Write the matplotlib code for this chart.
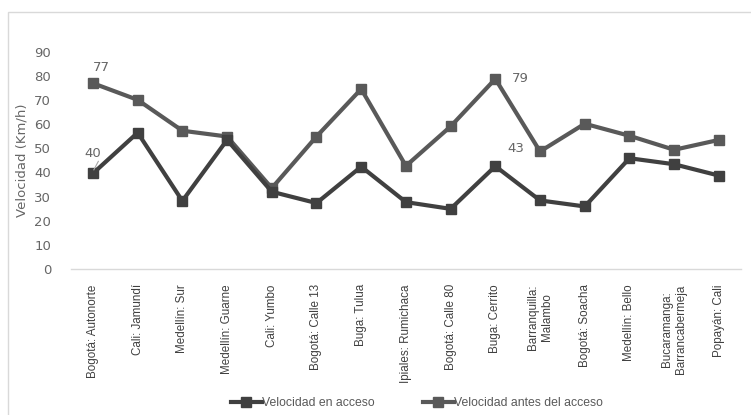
import matplotlib
matplotlib.use("Agg")
import matplotlib.pyplot as plt
from matplotlib.patches import Rectangle

categories = ["Bogotá: Autonorte", "Cali: Jamundí", "Medellín: Sur", "Medellín: Guarne",
              "Cali: Yumbo", "Bogotá: Calle 13", "Buga: Tulua", "Ipiales: Rumichaca",
              "Bogotá: Calle 80", "Buga: Cerrito", "Barranquilla:\nMalambo", "Bogotá: Soacha",
              "Medellín: Bello", "Bucaramanga:\nBarrancabermeja", "Popayán: Cali"]
vel_acceso = [39.6, 56.5, 28.2, 53.5, 32.0, 27.3, 42.4, 27.7, 24.9, 42.6, 28.4, 25.9, 45.9, 43.4, 38.7]
vel_antes = [77.0, 70.1, 57.3, 54.9, 33.5, 54.9, 74.6, 42.7, 59.1, 78.8, 48.7, 60.2, 55.2, 49.4, 53.5]
yticks = list(range(0, 100, 10))

fig = plt.figure(figsize=(7.51, 4.15), dpi=100)
ax = fig.add_axes([0.094, 0.352, 0.893, 0.523])

c_acc = "#404040"
c_ant = "#595959"
x = list(range(len(categories)))
ax.plot(x, vel_acceso, color=c_acc, lw=3, marker="s", ms=7.5, label="Velocidad en acceso", zorder=3)
ax.plot(x, vel_antes, color=c_ant, lw=3, marker="s", ms=7.5, label="Velocidad antes del acceso", zorder=2)

ax.set_xlim(-0.5, len(categories) - 0.5)
ax.set_ylim(0, 90)
ax.set_yticks(yticks)
ax.set_xticks(x)
ax.set_xticklabels(categories, rotation=90, fontsize=8.4, color="#404040",
                   family="Liberation Sans", ha="center", va="top", multialignment="center")
for lbl in ax.get_yticklabels():
    lbl.set_fontsize(9.5)
    lbl.set_color("#666666")
    lbl.set_family("DejaVu Sans")
ax.tick_params(axis="x", length=0, pad=11)
ax.tick_params(axis="y", length=0, pad=14)
for s in ["top", "right", "left"]:
    ax.spines[s].set_visible(False)
ax.spines["bottom"].set_color("#d9d9d9")
ax.spines["bottom"].set_linewidth(1)
ax.set_ylabel("Velocidad (Km/h)", fontsize=9.5, color="#666666", labelpad=4)

# data labels
lab_kw = dict(fontsize=9.5, color="#666666")
ax.annotate("77", xy=(0, vel_antes[0]), xytext=(0, 7), textcoords="offset points", ha="left", va="bottom", **lab_kw)
ax.annotate("40", xy=(0, vel_acceso[0]), xytext=(0, 10), textcoords="offset points", ha="center", va="bottom", **lab_kw)
ax.plot([0.02, 0.12], [vel_acceso[0] + 1.5, vel_acceso[0] + 5.0], color="#a6a6a6", lw=0.8, zorder=4)
ax.annotate("79", xy=(9, vel_antes[9]), xytext=(12, 0), textcoords="offset points", ha="left", va="center", **lab_kw)
ax.annotate("43", xy=(9, vel_acceso[9]), xytext=(9, 8), textcoords="offset points", ha="left", va="bottom", **lab_kw)

leg = fig.legend(loc="lower center", bbox_to_anchor=(0.555, -0.012), ncol=2, frameon=False,
                 prop=dict(family="Liberation Sans", size=8.8), handlelength=2.5,
                 columnspacing=4.0, handletextpad=0.0, markerscale=0.9)
for t in leg.get_texts():
    t.set_color("#595959")

# outer chart border (cropped)
fig.patches.append(Rectangle((8 / 751, -0.1), 1.2, 1 - 12 / 415 + 0.1, transform=fig.transFigure,
                             fill=False, edgecolor="#d9d9d9", lw=1))

fig.savefig("out.png", dpi=100)
